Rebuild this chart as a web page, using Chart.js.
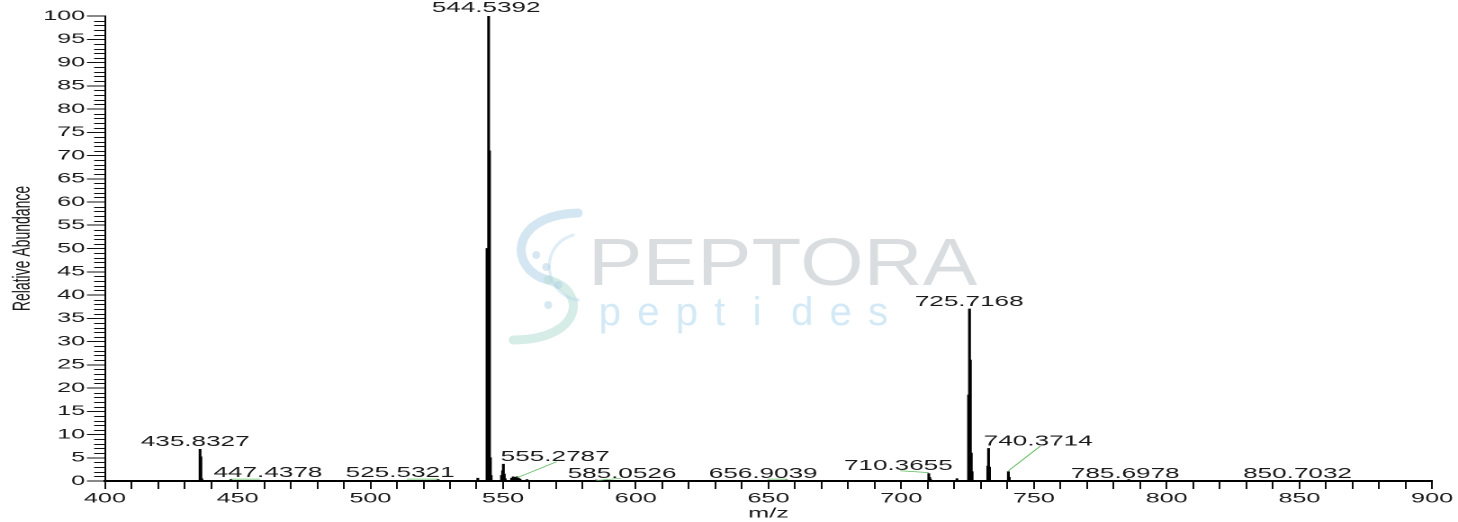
<!DOCTYPE html>
<html>
<head>
<meta charset="utf-8">
<script src="https://cdn.jsdelivr.net/npm/chart.js@4.4.1/dist/chart.umd.min.js"></script>
<style>
  html, body { margin: 0; padding: 0; background: #fff; overflow: hidden; }
  /* the original picture is stretched sideways, so draw narrow and stretch */
  #wrap { position: relative; width: 810px; height: 522px; transform: scaleX(1.8); transform-origin: 0 0; }
</style>
</head>
<body>
<div id="wrap"><canvas id="spectrum"></canvas></div>
<script>
  const SX = 1.8;

  // Spectrum sticks (m/z, relative abundance %)
  const mzValues = [435.83, 436.15, 436.5, 447.44, 525.53, 540.47, 543.95, 544.54, 544.87, 545.2, 545.5,
    549.4, 549.8, 550.1, 550.45, 550.8, 553.2, 553.8, 554.3, 554.9, 555.28, 555.8, 556.4, 559.0,
    585.05, 656.90, 710.37, 710.7, 711.0, 721.0, 725.38, 725.72, 726.05, 726.38, 726.7,
    732.6, 732.9, 733.25, 740.37, 740.7, 785.70, 850.70];
  const abundance = [6.8, 5.2, 0.5, 0.3, 0.3, 0.6, 50, 100, 71, 5, 1.2,
    1.2, 2.2, 3.6, 1.5, 0.5, 0.6, 0.9, 0.7, 0.8, 0.9, 0.6, 0.4, 0.3,
    0.2, 0.2, 1.6, 0.8, 0.4, 0.5, 18.5, 37, 26, 6, 2,
    3.2, 7, 3, 2.0, 0.8, 0.3, 0.2];

  // Peak annotations
  const labelTexts = ['435.8327', '447.4378', '525.5321', '544.5392', '555.2787', '585.0526',
    '656.9039', '710.3655', '725.7168', '740.3714', '785.6978', '850.7032'];
  const labelPeakMz = [435.83, 447.44, 525.53, 544.54, 555.28, 585.05, 656.90, 710.37, 725.72, 740.37, 785.70, 850.70];
  const labelTextMz = [434.0, 461.4, 511.2, 543.6, 569.6, 594.8, 648.0, 698.9, 725.6, 751.6, 784.4, 849.3];
  const labelTextLevel = [7.5, 0.86, 0.86, 100.9, 4.3, 0.65, 0.65, 2.4, 37.6, 7.6, 0.65, 0.65];
  // leader lines: from (peak m/z, fromLevel) to (toMz, toLevel); null = no line
  const leaderFromLevel = [null, 0.4, 0.4, null, 0.7, 0.1, 0.4, 1.8, null, 2.2, null, null];
  const leaderToMz = [null, 458.4, 513.8, null, 570.2, 594.5, 649.5, 699.6, null, 752.4, null, null];
  const leaderToLevel = [null, 0.4, 0.4, null, 4.15, 0.6, 0.4, 2.2, null, 7.5, null, null];

  const xMin = 400, xMax = 900;
  const yMin = 0, yMax = 100;

  Chart.defaults.font.family = '"Liberation Sans", Arial, sans-serif';
  Chart.defaults.color = '#1a1a1a';

  const watermark = {
    id: 'watermark',
    beforeDatasetsDraw(chart) {
      const ctx = chart.ctx;
      const a = chart.chartArea;
      const w = (a.right - a.left) * SX;
      const h = a.bottom - a.top;
      const left = a.left * SX;
      ctx.save();
      ctx.scale(1 / SX, 1);
      // logo: two S-shaped strands
      const cx = left + w * 0.334, cy = a.top + h * 0.557;
      ctx.lineCap = 'round';
      ctx.strokeStyle = 'rgba(175, 210, 232, 0.55)';
      ctx.lineWidth = 9;
      ctx.beginPath();
      ctx.moveTo(cx + 30, cy - 62);
      ctx.bezierCurveTo(cx - 40, cy - 60, cx - 40, cy - 5, cx, cy + 5);
      ctx.stroke();
      ctx.strokeStyle = 'rgba(180, 220, 210, 0.55)';
      ctx.beginPath();
      ctx.moveTo(cx, cy + 5);
      ctx.bezierCurveTo(cx + 40, cy + 15, cx + 35, cy + 65, cx - 35, cy + 65);
      ctx.stroke();
      ctx.strokeStyle = 'rgba(175, 210, 232, 0.4)';
      ctx.lineWidth = 3;
      ctx.beginPath();
      ctx.moveTo(cx + 25, cy - 40);
      ctx.bezierCurveTo(cx - 10, cy - 30, cx - 5, cy + 20, cx + 30, cy + 25);
      ctx.stroke();
      ctx.fillStyle = 'rgba(175, 210, 232, 0.5)';
      [[-12, -20], [-2, -8], [10, 10], [0, 30]].forEach(([dx, dy]) => {
        ctx.beginPath();
        ctx.arc(cx + dx, cy + dy, 4, 0, Math.PI * 2);
        ctx.fill();
      });
      // PEPTORA
      ctx.fillStyle = 'rgba(205, 209, 213, 0.75)';
      ctx.font = '67px "Liberation Sans", Arial, sans-serif';
      ctx.textBaseline = 'alphabetic';
      ctx.textAlign = 'left';
      ctx.save();
      ctx.translate(left + w * 0.364, a.top + h * 0.578);
      ctx.scale(1.22, 1);
      ctx.fillText('PEPTORA', 0, 0);
      ctx.restore();
      // peptides
      ctx.fillStyle = 'rgba(200, 228, 244, 0.8)';
      ctx.font = '40px "Liberation Sans", Arial, sans-serif';
      const word = 'peptides';
      const x0 = left + w * 0.372, step = 38.5;
      for (let i = 0; i < word.length; i++) {
        ctx.fillText(word[i], x0 + i * step, a.top + h * 0.665);
      }
      ctx.restore();
    }
  };

  const minorTicks = {
    id: 'minorTicks',
    afterDraw(chart) {
      const ctx = chart.ctx;
      const y = chart.scales.y;
      const axisX = chart.chartArea.left;
      ctx.save();
      ctx.strokeStyle = '#111';
      ctx.lineWidth = 1;
      ctx.beginPath();
      for (let v = yMin; v <= yMax; v++) {
        if (v % 5 === 0) continue;
        const py = Math.round(y.getPixelForValue(v)) + 0.5;
        ctx.moveTo(axisX - 6, py);
        ctx.lineTo(axisX, py);
      }
      ctx.stroke();
      ctx.restore();
    }
  };

  const peakLabels = {
    id: 'peakLabels',
    afterDatasetsDraw(chart) {
      const ctx = chart.ctx;
      const x = chart.scales.x, y = chart.scales.y;
      ctx.save();
      // leader lines
      ctx.strokeStyle = '#5cb85c';
      ctx.lineWidth = 0.7;
      for (let i = 0; i < labelTexts.length; i++) {
        if (leaderToMz[i] === null) continue;
        ctx.beginPath();
        ctx.moveTo(x.getPixelForValue(labelPeakMz[i]), y.getPixelForValue(leaderFromLevel[i]));
        ctx.lineTo(x.getPixelForValue(leaderToMz[i]), y.getPixelForValue(leaderToLevel[i]));
        ctx.stroke();
      }
      ctx.fillStyle = '#1a1a1a';
      ctx.font = '14.5px "Liberation Sans", Arial, sans-serif';
      ctx.textAlign = 'center';
      ctx.textBaseline = 'alphabetic';
      for (let i = 0; i < labelTexts.length; i++) {
        ctx.fillText(labelTexts[i], x.getPixelForValue(labelTextMz[i]), y.getPixelForValue(labelTextLevel[i]));
      }
      ctx.restore();
    }
  };

  const ctxSpectrum = document.getElementById('spectrum').getContext('2d');
  const spectrumChart = new Chart(ctxSpectrum, {
    type: 'bar',
    data: {
      datasets: [{
        label: 'Relative Abundance',
        data: mzValues.map((m, i) => ({ x: m, y: abundance[i] })),
        backgroundColor: '#000',
        borderWidth: 0,
        barThickness: 0.9,
        grouped: false
      }]
    },
    options: {
      responsive: true,
      maintainAspectRatio: false,
      animation: false,
      devicePixelRatio: 2,
      layout: { padding: { left: 0, right: 14.4, top: 16, bottom: 0 } },
      plugins: { legend: { display: false }, tooltip: { enabled: false } },
      scales: {
        x: {
          type: 'linear',
          min: xMin,
          max: xMax,
          offset: false,
          afterFit: (scale) => { scale.height = 41; },
          grid: { offset: false, drawOnChartArea: false, drawTicks: true, tickLength: 8, color: '#111', lineWidth: 1 },
          border: { display: true, color: '#000', width: 2 },
          ticks: {
            stepSize: 10,
            autoSkip: false,
            maxRotation: 0,
            padding: 1,
            font: { size: 14 },
            color: '#1a1a1a',
            callback: (v) => (v % 50 === 0 ? String(v) : '')
          },
          title: { display: true, text: 'm/z', font: { size: 14 }, color: '#1a1a1a', padding: { top: 0, bottom: 0 } }
        },
        y: {
          min: yMin,
          max: yMax,
          afterFit: (scale) => { scale.width = 58.3; },
          grid: { offset: false, drawOnChartArea: false, drawTicks: true, tickLength: 10, color: '#111', lineWidth: 1 },
          border: { display: true, color: '#000', width: 1 },
          ticks: { stepSize: 5, padding: 1, font: { size: 14 }, color: '#1a1a1a' },
          title: { display: true, text: 'Relative Abundance', font: { size: 14 }, color: '#1a1a1a', padding: { top: 4, bottom: 0 } }
        }
      }
    },
    plugins: [watermark, minorTicks, peakLabels]
  });
</script>
</body>
</html>
